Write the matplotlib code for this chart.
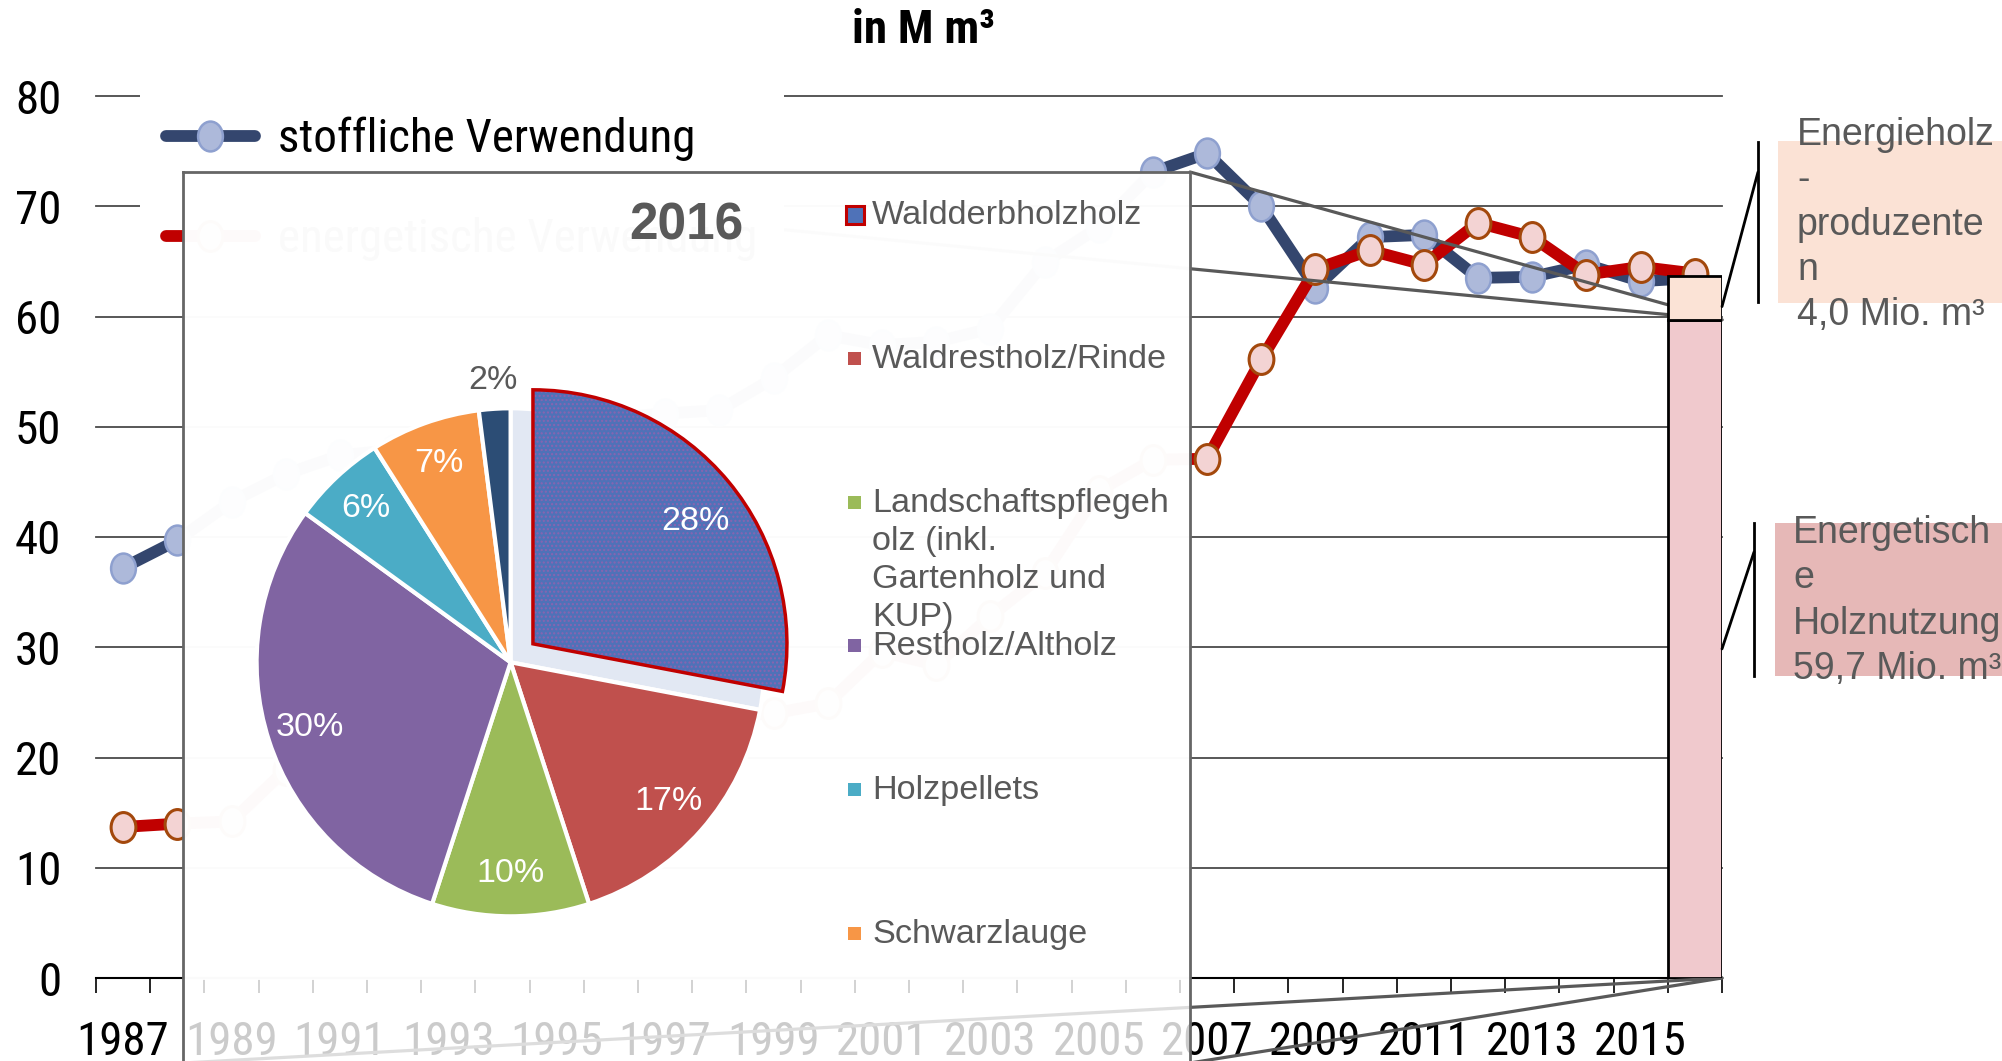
import os
import numpy as np
import matplotlib
matplotlib.use("Agg")
import matplotlib.pyplot as plt
from matplotlib import font_manager
from matplotlib.font_manager import FontProperties
from matplotlib.patches import Rectangle, Wedge, ConnectionPatch
from matplotlib.path import Path
from matplotlib.textpath import TextPath
from matplotlib.transforms import Affine2D

# ---- data -------------------------------------------------------------
years = list(range(1987, 2017))
stofflich = [37.2, 39.7, 43.2, 45.7, 47.4, 47.9, 48.4, 49.6, 49.9, 50.8,
             51.2, 51.5, 54.4, 58.3, 57.4, 57.7, 58.9, 64.9, 68.1, 73.1,
             74.8, 70.0, 62.6, 67.2, 67.4, 63.5, 63.6, 64.7, 63.2, 63.5]
energetisch = [13.7, 14.0, 14.2, 18.9, 19.8, 20.1, 21.0, 21.2, 22.3, 22.5,
               23.4, 23.7, 24.0, 24.9, 29.6, 28.4, 32.8, 36.7, 44.2, 47.0,
               47.1, 56.1, 64.3, 66.0, 64.7, 68.5, 67.2, 63.8, 64.5, 63.9]
series_labels = ["stoffliche Verwendung", "energetische Verwendung"]

# 2016 split of the energetic use (Mio. m³)
holz_energie = 59.7
holz_prod = 4.0
ann_labels = ["Energieholz\n-\nproduzente\nn\n4,0 Mio. m³",
              "Energetisch\ne\nHolznutzung\n59,7 Mio. m³"]

pie_year = "2016"
pie_shares = [28, 17, 10, 30, 6, 7, 2]
pie_names = ["Waldderbholzholz", "Waldrestholz/Rinde",
             "Landschaftspflegeh\nolz (inkl.\nGartenholz und\nKUP)",
             "Restholz/Altholz", "Holzpellets", "Schwarzlauge"]
pie_colors = ["#4f72b8", "#c0504d", "#9bbb59", "#8064a2",
              "#4bacc6", "#f79646", "#2c4d75"]

# ---- fonts ------------------------------------------------------------
SANS = "Liberation Sans"
GRAY = "#595959"


def pick_font(patterns):
    files = [f.fname for f in font_manager.fontManager.ttflist]
    for pat in patterns:
        for fn in files:
            if os.path.basename(fn).lower().startswith(pat.lower()):
                return fn
    return None


narrow_file = pick_font(["LiberationSansNarrow-Regular", "ArialNarrow.", "arialn.",
                         "RobotoCondensed-Regular", "NotoSans-Condensed.",
                         "NotoSans-CondensedRegular", "OpenSans_Condensed-Regular",
                         "OpenSansCondensed-Regular", "DejaVuSansCondensed."])
narrow_bold_file = pick_font(["LiberationSansNarrow-Bold.", "ArialNarrow-Bold", "arialnb.",
                              "RobotoCondensed-Bold.", "NotoSans-CondensedBold.",
                              "OpenSans_Condensed-Bold.", "OpenSansCondensed-Bold.",
                              "DejaVuSansCondensed-Bold."])


def narrow_prop(size, bold=False):
    fn = narrow_bold_file if bold else narrow_file
    if fn:
        return FontProperties(fname=fn, size=size)
    return FontProperties(family=SANS, weight="bold" if bold else "normal", size=size)


# scale the narrow font so that a year label is about 87 px wide
w_probe = TextPath((0, 0), "1987", size=34, prop=narrow_prop(34)).get_extents().width
NSIZE = min(34.0, 34.0 * 62.6 / w_probe)

W, H = 2002, 1061


def fx(px):
    return px / W


def fy(py):
    return 1 - py / H


fig = plt.figure(figsize=(W / 100, H / 100), dpi=100)

# ---- main line chart --------------------------------------------------
ax = fig.add_axes([fx(96), fy(978), fx(1722) - fx(96), fy(96) - fy(978)], zorder=0)
x = np.arange(len(years))
ax.set_xlim(-0.5, len(years) - 0.5)
ax.set_ylim(0, 80)
ax.yaxis.grid(True, color="#4a4a4a", lw=1.3)
ax.set_axisbelow(True)
for s in ["left", "top", "right"]:
    ax.spines[s].set_visible(False)
ax.spines["bottom"].set_linewidth(1.5)

ax.set_yticks(range(0, 81, 10))
ax.set_xticks(x[::2])
ax.set_xticklabels([str(y) for y in years[::2]])
ax.set_xticks(np.arange(-0.5, len(years)), minor=True)
ax.tick_params(axis="y", length=0, pad=25)
ax.tick_params(axis="x", which="major", length=0, pad=30)
ax.tick_params(axis="x", which="minor", length=11, width=1.2, color="black")
for lab in ax.get_xticklabels() + ax.get_yticklabels():
    lab.set_fontproperties(narrow_prop(NSIZE))
for gl in ax.get_ygridlines():
    gl.set_clip_on(False)

ell = Path.unit_circle().transformed(Affine2D().scale(0.83, 1.0))
ax.plot(x, stofflich, color="#34466e", lw=8.5, marker=ell, ms=21.5,
        mfc="#adb9da", mec="#8ea0cf", mew=1.8, label=series_labels[0],
        solid_capstyle="round", zorder=3)
ax.plot(x, energetisch, color="#c00000", lw=8.5, marker=ell, ms=21.5,
        mfc="#f3d3d3", mec="#a3480c", mew=2.2, label=series_labels[1],
        solid_capstyle="round", zorder=4)

ax.bar(x[-1], holz_energie, width=1.0, color="#f0c9cd", edgecolor="black",
       lw=2, zorder=6)
ax.bar(x[-1], holz_prod, bottom=holz_energie, width=1.0, color="#fbe3d6",
       edgecolor="black", lw=2, zorder=6)

leg = ax.legend(loc="upper left", bbox_to_anchor=((140 - 96) / 1626, (978 - 91) / 882),
                borderaxespad=0, frameon=True, fancybox=False, framealpha=1,
                facecolor="white", edgecolor="none", handlelength=1.9,
                handletextpad=0.5, borderpad=0.55, labelspacing=1.19,
                prop=narrow_prop(NSIZE))
leg.set_zorder(7)

fig.text(fx(923), fy(30), "in M m³", fontproperties=narrow_prop(NSIZE, bold=True),
         ha="center", va="center")

# ---- pie panel ---------------------------------------------------------
panel = fig.add_axes([fx(183), fy(1063), fx(1190) - fx(183), fy(172) - fy(1063)], zorder=3)
panel.patch.set_alpha(0)
for s in panel.spines.values():
    s.set_color("#666666")
    s.set_linewidth(2)
panel.set_xlim(183, 1190)
panel.set_ylim(H - 1063, H - 172)
# semi-opaque backdrop: almost white above the axis line, lighter veil below
panel.add_patch(Rectangle((183, H - 980), 1007, 808, facecolor="white",
                          alpha=0.985, edgecolor="none", zorder=0.1))
panel.add_patch(Rectangle((183, H - 1063), 1007, 83, facecolor="white",
                          alpha=0.8, edgecolor="none", zorder=0.1))

cx, cy, R = 510.6, H - 662.3, 254
explode = [29] + [0] * (len(pie_shares) - 1)
wedges, _, autotexts = panel.pie(
    pie_shares, colors=pie_colors, startangle=90, counterclock=False,
    explode=explode, radius=R, center=(cx, cy), autopct="%1.0f%%",
    pctdistance=0.83, frame=True,
    wedgeprops=dict(edgecolor="white", linewidth=3),
    textprops=dict(color="white", fontsize=24.5, family=SANS))
panel.set_aspect("auto")
panel.set_xlim(183, 1190)
panel.set_ylim(H - 1063, H - 172)
panel.set_xticks([])
panel.set_yticks([])

w0 = wedges[0]
ghost = Wedge((cx, cy), R, w0.theta1, w0.theta2, facecolor="#e2e8f3",
              edgecolor="white", lw=3, zorder=0.5)
panel.add_patch(ghost)
w0.set_edgecolor("none")
panel.add_patch(Wedge(w0.center, w0.r, w0.theta1, w0.theta2, facecolor="none",
                      edgecolor="#8a64b0", hatch="....", lw=0, zorder=1.2))
panel.add_patch(Wedge(w0.center, w0.r, w0.theta1, w0.theta2, facecolor="none",
                      edgecolor="#c00000", lw=2.5, zorder=1.3))
for t in autotexts:
    t.set_zorder(2)
mid0 = np.deg2rad((w0.theta1 + w0.theta2) / 2) - 0.045
autotexts[0].set_position((w0.center[0] + 0.80 * R * np.cos(mid0),
                           w0.center[1] + 0.80 * R * np.sin(mid0)))
wl = wedges[-1]
mid = np.deg2rad((wl.theta1 + wl.theta2) / 2)
autotexts[-1].set_position((cx + 1.11 * R * np.cos(mid), cy + 1.11 * R * np.sin(mid)))
autotexts[-1].set_color(GRAY)

panel.text(686, H - 226, pie_year, fontsize=37, fontweight="bold", color=GRAY,
           family=SANS, ha="center", va="center")

for i, name in enumerate(pie_names):
    base = H - (225 + 143.8 * i)
    if i == 0:
        panel.add_patch(Rectangle((846, base + 1), 18, 18, facecolor=pie_colors[0],
                                  edgecolor="#c00000", lw=2.2, zorder=2))
    else:
        panel.add_patch(Rectangle((848, base + 4), 13, 13, facecolor=pie_colors[i],
                                  edgecolor="none", zorder=2))
    panel.text(872, base + 25, name, fontsize=24.7, color=GRAY, family=SANS,
               ha="left", va="top", linespacing=1.3, zorder=2)

# connector lines from the 2016 bar to the panel corners (under the panel)
for ya, corner in [(holz_energie, (0, 1)), (holz_energie, (1, 1)),
                   (0, (0, 0)), (0, (1, 0))]:
    cp = ConnectionPatch(xyA=(x[-1] + 0.5, ya), coordsA=ax.transData,
                         xyB=corner, coordsB=panel.transAxes,
                         color="#595959", lw=2.3, zorder=5)
    ax.add_artist(cp)
    cp.set_clip_on(False)

# ---- right hand annotations ------------------------------------------
ann = fig.add_axes([0, 0, 1, 1], zorder=1)
ann.set_xlim(0, W)
ann.set_ylim(H, 0)
ann.axis("off")
ann.patch.set_alpha(0)

ann.add_patch(Rectangle((1778, 141), 240, 162, facecolor="#fbe2d5", edgecolor="none"))
ann.add_patch(Rectangle((1775, 523), 240, 153, facecolor="#e6b8b7", edgecolor="none"))
ann.text(1797, 225, ann_labels[0], fontsize=27, color=GRAY, family=SANS,
         ha="left", va="center", linespacing=1.33)
ann.text(1793, 601, ann_labels[1], fontsize=27, color=GRAY, family=SANS,
         ha="left", va="center", linespacing=1.33)

ann.plot([1758, 1758], [142, 302], color="black", lw=2)
ann.plot([1754, 1754], [523, 676], color="black", lw=2)
for (bx, by), target in [((1758, 172), holz_energie + holz_prod * 0.3),
                         ((1754, 552), holz_energie / 2)]:
    cp = ConnectionPatch(xyA=(bx, by), coordsA=ann.transData,
                         xyB=(x[-1] + 0.5, target), coordsB=ax.transData,
                         color="black", lw=2)
    ann.add_artist(cp)
    cp.set_clip_on(False)

fig.savefig("out.png", dpi=100)
